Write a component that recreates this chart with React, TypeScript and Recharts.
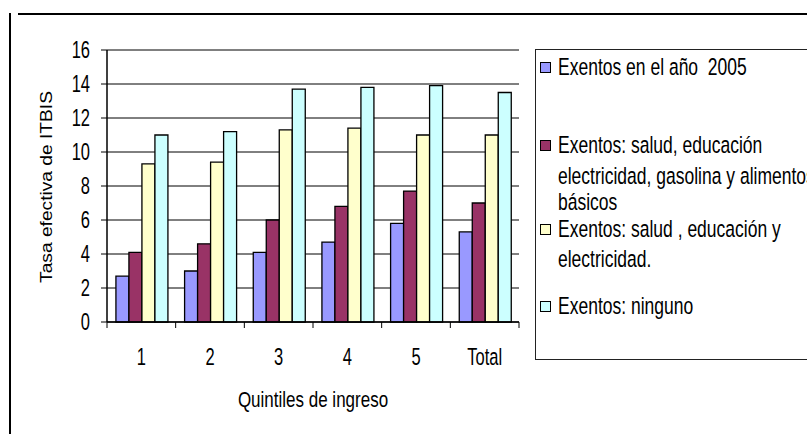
import React from 'react';
import { BarChart, Bar, XAxis, YAxis, CartesianGrid, Legend } from 'recharts';

const categories = ['1', '2', '3', '4', '5', 'Total'];
const exentos2005 = [2.7, 3.0, 4.1, 4.7, 5.8, 5.3];
const exentosSaludEducElecGasAlim = [4.1, 4.6, 6.0, 6.8, 7.7, 7.0];
const exentosSaludEducElec = [9.3, 9.4, 11.3, 11.4, 11.0, 11.0];
const exentosNinguno = [11.0, 11.2, 13.7, 13.8, 13.9, 13.5];
const yTicks = [0, 2, 4, 6, 8, 10, 12, 14, 16];

const seriesKeys = ['s1', 's2', 's3', 's4'];
const seriesColors = ['#9999FF', '#993366', '#FFFFCC', '#CCFFFF'];
const legendLines = [
  ['Exentos en el año  2005'],
  ['Exentos: salud, educación', 'electricidad, gasolina y alimentos', 'básicos'],
  ['Exentos: salud , educación y', 'electricidad.'],
  ['Exentos: ninguno'],
];
const yLabel = 'Tasa efectiva de ITBIS';
const xLabel = 'Quintiles de ingreso';

const data = categories.map((c, i) => ({
  cat: c,
  s1: exentos2005[i],
  s2: exentosSaludEducElecGasAlim[i],
  s3: exentosSaludEducElec[i],
  s4: exentosNinguno[i],
}));

const FONT = '"Liberation Sans", Arial, sans-serif';
const W = 807;
const H = 434;
const M = { top: 50, right: 288, bottom: 0, left: 0 };
const Y_W = 107;
const X_H = 112;
const BAND = (W - M.right - M.left - Y_W) / categories.length;

const YTick = (props: any) => {
  const { x, y, payload } = props;
  return (
    <text
      transform={`translate(${x},${y}) scale(1,1.4)`}
      textAnchor="end"
      dominantBaseline="central"
      fontSize={16.5}
      fontFamily={FONT}
      fill="#000"
    >
      {payload.value}
    </text>
  );
};

const XTick = (props: any) => {
  const { x, y, payload, index } = props;
  const last = index === categories.length - 1;
  return (
    <g>
      <line x1={x - BAND / 2} x2={x - BAND / 2} y1={y} y2={y + 6} stroke="#000" strokeWidth={1} />
      {last && <line x1={x + BAND / 2} x2={x + BAND / 2} y1={y} y2={y + 6} stroke="#000" strokeWidth={1} />}
      <text
        transform={`translate(${x},${y + 35}) scale(1,1.4)`}
        textAnchor="middle"
        dominantBaseline="central"
        fontSize={16.5}
        fontFamily={FONT}
        fill="#000"
      >
        {payload.value}
      </text>
    </g>
  );
};

const YAxisLabel = (props: any) => {
  const { viewBox } = props;
  const cx = viewBox.x + 47;
  const cy = viewBox.y + viewBox.height / 2 + 1;
  return (
    <text
      transform={`translate(${cx},${cy}) rotate(-90) scale(1.2,1)`}
      textAnchor="middle"
      dominantBaseline="central"
      fontSize={16}
      fontFamily={FONT}
      fill="#000"
    >
      {yLabel}
    </text>
  );
};

const XAxisLabel = (props: any) => {
  const { viewBox } = props;
  const cx = viewBox.x + viewBox.width / 2;
  const cy = viewBox.y + 77;
  return (
    <text
      transform={`translate(${cx},${cy}) scale(1,1.35)`}
      textAnchor="middle"
      dominantBaseline="central"
      fontSize={17}
      fontFamily={FONT}
      fill="#000"
    >
      {xLabel}
    </text>
  );
};

// legend line centres relative to legend box top
const lineCenters = [[18], [96, 127, 153], [180, 210], [257]];

const LegendContent = () => (
  <div
    style={{
      position: 'relative',
      width: 300,
      height: 311,
      border: '1px solid #222',
      boxSizing: 'border-box',
      background: '#fff',
      fontFamily: FONT,
      fontSize: 17.5,
      color: '#000',
    }}
  >
    {legendLines.map((lines, i) => (
      <React.Fragment key={i}>
        <div
          style={{
            position: 'absolute',
            left: 4,
            top: lineCenters[i][0] - 6,
            width: 11,
            height: 11,
            boxSizing: 'border-box',
            border: '1px solid #000',
            background: seriesColors[i],
          }}
        />
        {lines.map((t, j) => (
          <div
            key={j}
            style={{
              position: 'absolute',
              left: 22,
              top: lineCenters[i][j] - 11,
              height: 20,
              lineHeight: '20px',
              whiteSpace: 'pre',
              transform: 'scale(1,1.4)',
              transformOrigin: 'left center',
            }}
          >
            {t}
          </div>
        ))}
      </React.Fragment>
    ))}
  </div>
);

export default function App() {
  return (
    <div
      style={{
        position: 'fixed',
        left: 0,
        top: 0,
        width: W,
        height: H,
        overflow: 'hidden',
        background: '#fff',
      }}
    >
      <BarChart
        width={W}
        height={H}
        data={data}
        margin={M}
        barCategoryGap="13%"
        barGap={0}
        style={{ position: 'absolute', left: 0, top: 0 }}
      >
        <CartesianGrid vertical={false} stroke="#000" strokeWidth={1} yAxisId="left" />
        <XAxis
          dataKey="cat"
          height={X_H}
          tickLine={false}
          tickSize={0}
          tickMargin={0}
          axisLine={{ stroke: '#000', strokeWidth: 1.5 }}
          tick={<XTick />}
          interval={0}
          label={<XAxisLabel />}
        />
        <YAxis
          yAxisId="left"
          width={Y_W}
          domain={[0, 16]}
          ticks={yTicks}
          interval={0}
          tickSize={6}
          tickMargin={11}
          tickLine={{ stroke: '#000' }}
          axisLine={{ stroke: '#000', strokeWidth: 1.5 }}
          tick={<YTick />}
          label={<YAxisLabel />}
        />
        <YAxis
          yAxisId="right"
          orientation="right"
          width={0}
          domain={[0, 16]}
          tick={false}
          tickLine={false}
          axisLine={{ stroke: '#000', strokeWidth: 1.5 }}
        />
        {seriesKeys.map((k, i) => (
          <Bar
            key={k}
            yAxisId="left"
            dataKey={k}
            name={legendLines[i].join(' ')}
            fill={seriesColors[i]}
            stroke="#000"
            strokeWidth={1.3}
            isAnimationActive={false}
          />
        ))}
        <Legend
          layout="vertical"
          align="center"
          verticalAlign="middle"
          content={<LegendContent />}
          wrapperStyle={{ position: 'absolute', left: 535, top: 49, width: 300, height: 311 }}
        />
      </BarChart>
      <div style={{ position: 'absolute', left: 18, top: 13, width: W - 18, height: 2, background: '#000' }} />
      <div style={{ position: 'absolute', left: 9, top: 13, width: 2, height: H - 13, background: '#000' }} />
    </div>
  );
}
